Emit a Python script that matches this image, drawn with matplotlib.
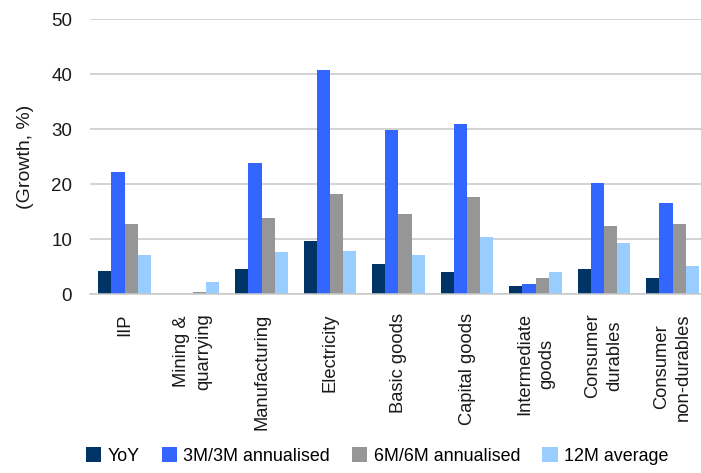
import matplotlib
matplotlib.use("Agg")
import matplotlib.pyplot as plt
import numpy as np

categories = ["IIP", "Mining &\nquarrying", "Manufacturing", "Electricity",
              "Basic goods", "Capital goods", "Intermediate\ngoods",
              "Consumer\ndurables", "Consumer\nnon-durables"]
series_names = ["YoY", "3M/3M annualised", "6M/6M annualised", "12M average"]
yoy = [4.2, 0.0, 4.6, 9.7, 5.5, 4.1, 1.5, 4.6, 3.0]
m3 = [22.2, 0.0, 23.9, 40.8, 29.9, 31.0, 1.9, 20.2, 16.6]
m6 = [12.8, 0.4, 13.9, 18.2, 14.6, 17.7, 3.0, 12.4, 12.8]
m12 = [7.1, 2.2, 7.7, 7.9, 7.1, 10.4, 4.1, 9.3, 5.1]
yticks = [0, 10, 20, 30, 40, 50]

colors = ["#003366", "#3366FF", "#969696", "#99CCFF"]
text_color = "#1a1a1a"

plt.rcParams["font.family"] = ["Liberation Sans", "DejaVu Sans"]

fig = plt.figure(figsize=(7.01, 4.73), dpi=100)
ax = fig.add_axes([90.25 / 701, 178.7 / 473, 616.5 / 701, 275 / 473])

x = np.arange(len(categories))
w = 0.19
for i, (vals, c, name) in enumerate(zip([yoy, m3, m6, m12], colors, series_names)):
    ax.bar(x + (i - 1.5) * w, vals, width=w, color=c, label=name, zorder=3)

ax.set_xlim(-0.5, len(categories) - 0.5)
ax.set_ylim(0, 50)
ax.set_yticks(yticks)
ax.set_yticklabels([str(v) for v in yticks], fontsize=13.5, color=text_color)
ax.yaxis.grid(True, color="#c8c8c8", linewidth=1.1, zorder=0)
ax.tick_params(axis="y", length=0, pad=13)
ax.tick_params(axis="x", length=0)
ax.set_xticks(x)
ax.set_xticklabels([])
for xi, lab in zip(x, categories):
    ax.text(xi, -3.45, lab, rotation=90, ha="center", va="top",
            multialignment="center", linespacing=1.4, fontsize=13.2,
            color=text_color, transform=ax.transData, clip_on=False)

for s in ["top", "right", "left"]:
    ax.spines[s].set_visible(False)
ax.spines["bottom"].set_color("#c8c8c8")
ax.spines["bottom"].set_linewidth(1.1)
ax.spines["bottom"].set_zorder(4)

ax.set_ylabel("(Growth, %)", fontsize=14, color=text_color)
ax.yaxis.set_label_coords(-56 / 616.5, 0.5)

fig.legend(loc="center left", bbox_to_anchor=(86 / 701, 1 - 456 / 473), ncol=4,
           frameon=False, fontsize=12.9, handlelength=0.85, handleheight=0.85,
           handletextpad=0.34, columnspacing=1.25, borderaxespad=0, borderpad=0)

fig.savefig("out.png", dpi=100)
